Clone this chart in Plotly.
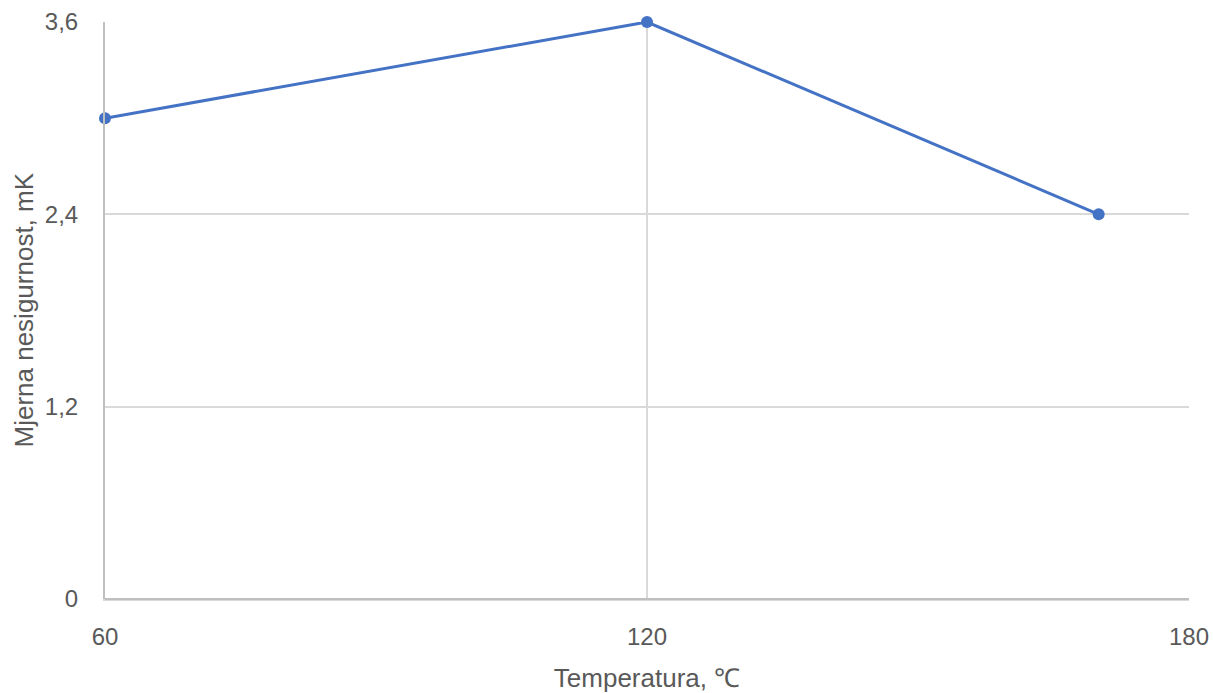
import plotly.graph_objects as go

temperatures = [60, 120, 170]
uncertainty = [3.0, 3.6, 2.4]
x_ticks = [60, 120, 180]
y_ticks = [0, 1.2, 2.4, 3.6]
y_tick_labels = ["0", "1,2", "2,4", "3,6"]
x_title = "Temperatura, ℃"
y_title = "Mjerna nesigurnost, mK"

font_family = "Liberation Sans, Arial, sans-serif"
gray_text = "#595959"

fig = go.Figure()
fig.add_trace(go.Scatter(
    x=temperatures, y=uncertainty, mode="lines+markers",
    line=dict(color="#4472C4", width=3),
    marker=dict(color="#4472C4", size=12),
    showlegend=False, cliponaxis=False,
))

fig.update_layout(
    width=1213, height=693,
    margin=dict(l=105, r=24, t=22, b=94),
    paper_bgcolor="white", plot_bgcolor="white",
    font=dict(family=font_family, color=gray_text, size=24),
    separators=",.",
)
fig.update_xaxes(
    range=[60, 180], tickvals=x_ticks, automargin=False,
    showgrid=True, gridcolor="#d9d9d9", gridwidth=1.5,
    showline=True, linecolor="#d9d9d9", linewidth=1.5, mirror=False,
    zeroline=False, ticks="", ticklabelstandoff=15,
    tickfont=dict(size=24, color=gray_text),
    title=dict(text=x_title, font=dict(size=26, color=gray_text), standoff=22),
)
fig.update_yaxes(
    range=[0, 3.6], tickvals=y_ticks, ticktext=y_tick_labels, automargin=False,
    showgrid=True, gridcolor="#d9d9d9", gridwidth=1.5,
    showline=True, linecolor="#bfbfbf", linewidth=2,
    zeroline=False, ticks="", ticklabelstandoff=20,
    tickfont=dict(size=24, color=gray_text),
)
fig.add_annotation(
    text=y_title, xref="paper", yref="paper", x=0, y=0.5,
    xanchor="center", yanchor="middle", xshift=-82, textangle=-90,
    showarrow=False, font=dict(size=26, color=gray_text),
)
fig.add_shape(type="line", xref="paper", yref="paper", x0=0, x1=1, y0=0, y1=0,
              line=dict(color="#bfbfbf", width=2))

fig.write_html(
    "out.html",
    config={"displayModeBar": False},
    post_script="document.body.style.margin='0';document.body.style.overflow='hidden';",
)
